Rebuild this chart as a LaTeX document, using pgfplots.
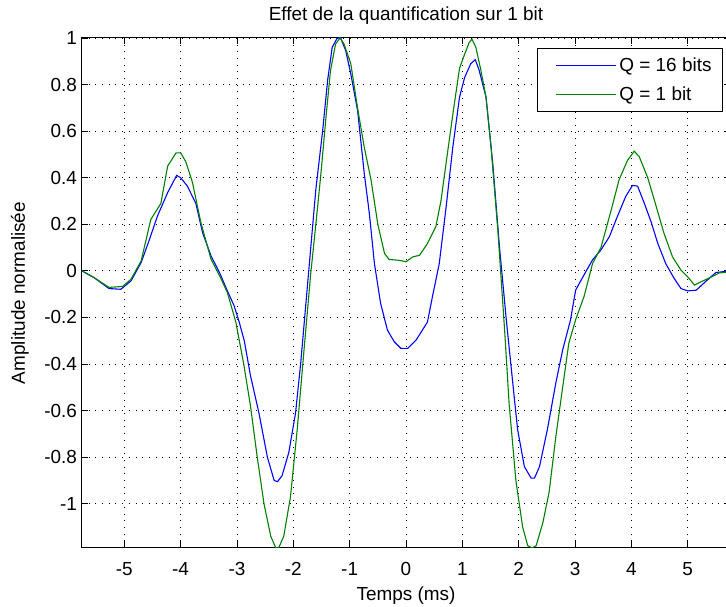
\documentclass[border=0pt]{standalone}
\usepackage{fontspec}
\setmainfont{Liberation Sans}
\usepackage{pgfplots}
\pgfplotsset{compat=1.18}
\definecolor{mblue}{rgb}{0,0,1}
\definecolor{mgreen}{rgb}{0,0.5,0}
\newcommand{\fs}{\fontsize{19}{22}\selectfont}
\begin{document}
\begin{tikzpicture}
\begin{axis}[
  scale only axis, width=648bp, height=510bp,
  xmin=-5.75, xmax=5.75, ymin=-1.19, ymax=1,
  xtick={-5,-4,-3,-2,-1,0,1,2,3,4,5},
  xticklabels={-5,-4,-3,-2,-1,0,1,2,3,4,5},
  ytick={-1,-0.8,-0.6,-0.4,-0.2,0,0.2,0.4,0.6,0.8,1},
  yticklabels={-1,-0.8,-0.6,-0.4,-0.2,0,0.2,0.4,0.6,0.8,1},
  tick align=inside, major tick length=6.5bp,
  tick style={black, line width=0.9bp},
  grid=major,
  major grid style={black, line width=0.9bp, dash pattern=on 0.9bp off 5.8bp},
  axis line style={line width=1bp},
  title={Effet de la quantification sur 1 bit},
  title style={at={(axis description cs:0.5,1)}, anchor=base, yshift=12bp, font=\fs},
  xlabel={Temps (ms)},
  xlabel style={at={(axis description cs:0.5,-0.102)}, anchor=base, font=\fs},
  ylabel={Amplitude normalisée},
  ylabel style={at={(axis description cs:-0.088,0.5)}, anchor=base, font=\fs},
  xticklabel style={font=\fs, anchor=base, yshift=-28bp},
  yticklabel style={font=\fs, anchor=east, xshift=-1.5bp},
  legend style={at={(axis description cs:1,1)}, anchor=north east, xshift=-7bp, yshift=-10bp,
    draw=black, line width=1bp, fill=white, font=\fs, inner xsep=8bp, inner ysep=7bp,
    row sep=10.5bp, nodes={inner xsep=3bp, inner ysep=2bp}},
  legend cell align=left,
]
\addlegendimage{legend image code/.code={\path (-10bp,0bp) (60bp,0bp); \draw[draw=mblue, line width=1.2bp] (0bp,0bp) -- (60bp,0bp);}}
\addlegendentry{Q = 16 bits}
\addlegendimage{legend image code/.code={\path (-10bp,0bp) (60bp,0bp); \draw[draw=mgreen, line width=1.2bp] (0bp,0bp) -- (60bp,0bp);}}
\addlegendentry{Q = 1 bit}
\addplot[color=mblue, draw=mblue, line width=1.1bp, forget plot] coordinates {
(-5.75,0.0) (-5.53,-0.03) (-5.27,-0.076) (-5.06,-0.079) (-4.88,-0.043) (-4.70,0.036)
(-4.56,0.13) (-4.41,0.236) (-4.23,0.336) (-4.07,0.41) (-4.0,0.40) (-3.88,0.364)
(-3.73,0.29) (-3.61,0.164) (-3.46,0.064) (-3.31,-0.007) (-3.17,-0.086) (-3.05,-0.15)
(-2.96,-0.22) (-2.87,-0.30) (-2.76,-0.45) (-2.61,-0.61) (-2.46,-0.80) (-2.34,-0.90)
(-2.28,-0.905) (-2.20,-0.88) (-2.08,-0.78) (-1.96,-0.61) (-1.87,-0.40) (-1.78,-0.15)
(-1.69,0.10) (-1.60,0.35) (-1.48,0.60) (-1.39,0.82) (-1.31,0.96) (-1.22,1.0)
(-1.16,1.0) (-1.07,0.946) (-0.98,0.846) (-0.86,0.69) (-0.74,0.417) (-0.65,0.246)
(-0.56,0.031) (-0.45,-0.14) (-0.33,-0.254) (-0.21,-0.304) (-0.09,-0.333) (0.03,-0.333)
(0.18,-0.297) (0.38,-0.22) (0.47,-0.11) (0.59,0.031) (0.71,0.27) (0.83,0.53)
(0.95,0.746) (1.04,0.83) (1.15,0.89) (1.23,0.907) (1.30,0.86) (1.42,0.746)
(1.54,0.46) (1.66,0.10) (1.78,-0.21) (1.89,-0.47) (1.98,-0.68) (2.10,-0.84)
(2.22,-0.89) (2.28,-0.89) (2.37,-0.84) (2.51,-0.68) (2.66,-0.48) (2.78,-0.34)
(2.92,-0.21) (3.01,-0.083) (3.13,-0.03) (3.31,0.047) (3.46,0.09) (3.61,0.147)
(3.75,0.233) (3.90,0.32) (4.02,0.367) (4.11,0.364) (4.23,0.29) (4.35,0.21)
(4.47,0.117) (4.61,0.031) (4.76,-0.033) (4.88,-0.076) (5.0,-0.086) (5.15,-0.083)
(5.33,-0.043) (5.50,-0.007) (5.75,0.0)
};
\addplot[color=mgreen, draw=mgreen, line width=1.1bp, forget plot] coordinates {
(-5.75,0.0) (-5.53,-0.03) (-5.27,-0.071) (-5.03,-0.067) (-4.88,-0.036) (-4.70,0.043)
(-4.53,0.22) (-4.35,0.29) (-4.23,0.45) (-4.08,0.507) (-4.0,0.507) (-3.91,0.47)
(-3.79,0.38) (-3.64,0.207) (-3.46,0.05) (-3.31,-0.02) (-3.17,-0.093) (-3.02,-0.22)
(-2.88,-0.40) (-2.76,-0.58) (-2.64,-0.80) (-2.52,-1.0) (-2.40,-1.14) (-2.31,-1.19)
(-2.26,-1.19) (-2.17,-1.14) (-2.05,-0.97) (-1.93,-0.68) (-1.81,-0.34) (-1.69,-0.01)
(-1.60,0.20) (-1.51,0.417) (-1.42,0.66) (-1.34,0.86) (-1.25,0.974) (-1.17,1.0)
(-1.10,0.974) (-0.98,0.89) (-0.86,0.70) (-0.74,0.53) (-0.62,0.39) (-0.50,0.20)
(-0.38,0.074) (-0.30,0.049) (-0.15,0.046) (-0.03,0.041) (0.0,0.039) (0.12,0.06)
(0.24,0.067) (0.38,0.117) (0.53,0.19) (0.62,0.30) (0.71,0.46) (0.83,0.67)
(0.95,0.87) (1.04,0.93) (1.12,0.98) (1.17,0.995) (1.24,0.96) (1.33,0.86)
(1.42,0.746) (1.51,0.53) (1.63,0.174) (1.75,-0.254) (1.83,-0.57) (1.95,-0.90)
(2.07,-1.10) (2.16,-1.18) (2.24,-1.19) (2.31,-1.18) (2.43,-1.08) (2.54,-0.95)
(2.66,-0.71) (2.78,-0.50) (2.89,-0.31) (3.01,-0.21) (3.16,-0.11) (3.31,0.031)
(3.46,0.10) (3.64,0.26) (3.78,0.39) (3.93,0.474) (4.05,0.514) (4.14,0.49)
(4.29,0.40) (4.44,0.277) (4.58,0.16) (4.73,0.06) (4.88,0.003) (5.0,-0.026)
(5.12,-0.061) (5.27,-0.043) (5.42,-0.026) (5.56,-0.009) (5.75,-0.004)
};
\end{axis}
\pgfresetboundingbox
\path[use as bounding box] ([xshift=-82bp,yshift=-59bp]current axis.south west) rectangle ([xshift=-4bp,yshift=38bp]current axis.north east);
\end{tikzpicture}
\end{document}
